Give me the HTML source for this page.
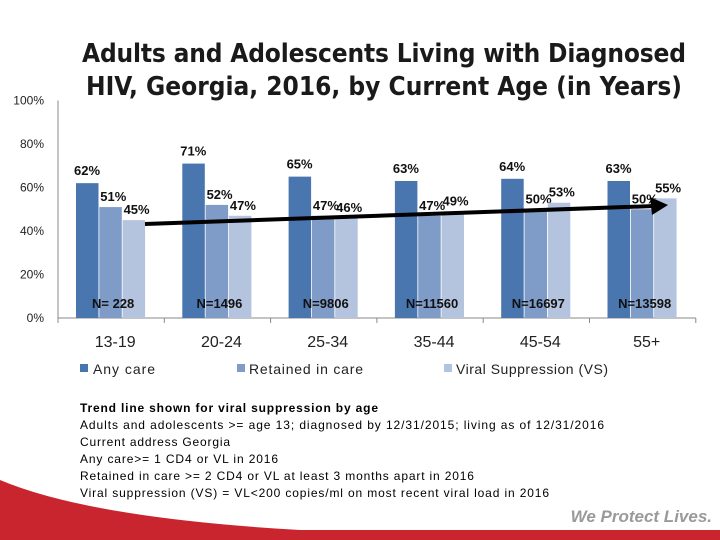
<!DOCTYPE html>
<html><head><meta charset="utf-8"><style>
body{margin:0;width:720px;height:540px;overflow:hidden;background:#fff;font-family:"Liberation Sans","DejaVu Sans",sans-serif}
svg{display:block}
</style></head><body>
<svg width="720" height="540">
<path d="M0,480 Q90,518 300,530 L720,530 L720,540 L0,540 Z" fill="#c9252f"/>
<text x="384" y="62" text-anchor="middle" font-size="26" font-weight="bold" fill="#1a1a1a" font-family="DejaVu Sans Condensed, DejaVu Sans, sans-serif" textLength="604">Adults and Adolescents Living with Diagnosed</text>
<text x="384" y="95" text-anchor="middle" font-size="26" font-weight="bold" fill="#1a1a1a" font-family="DejaVu Sans Condensed, DejaVu Sans, sans-serif" textLength="596">HIV, Georgia, 2016, by Current Age (in Years)</text>
<g id="axes"></g>
<g id="bars"></g>
<line x1="145" y1="224" x2="655" y2="206" stroke="#000" stroke-width="4"/>
<polygon points="668,205 650,197 652,215" fill="#000"/>
<g font-size="14" fill="#222">
<rect x="80" y="364" width="8" height="8" fill="#4a76b0"/>
<text x="93" y="374" textLength="62">Any care</text>
<rect x="237" y="364" width="8" height="8" fill="#7f9cc8"/>
<text x="249" y="374" textLength="114">Retained in care</text>
<rect x="444" y="364" width="8" height="8" fill="#b4c4de"/>
<text x="456" y="374" textLength="152">Viral Suppression (VS)</text>
</g>
<g font-size="12" fill="#000">
<text x="80" y="412" font-weight="bold" textLength="298">Trend line shown for viral suppression by age</text>
<text x="80" y="429" textLength="524">Adults and adolescents &gt;= age 13; diagnosed by 12/31/2015; living as of 12/31/2016</text>
<text x="80" y="446" textLength="150">Current address Georgia</text>
<text x="80" y="463" textLength="198">Any care&gt;= 1 CD4 or VL in 2016</text>
<text x="80" y="480" textLength="394">Retained in care &gt;= 2 CD4 or VL at least 3 months apart in 2016</text>
<text x="80" y="497" textLength="469">Viral suppression (VS) = VL&lt;200 copies/ml on most recent viral load in 2016</text>
</g>
<text x="712" y="522" text-anchor="end" font-size="17" font-weight="bold" font-style="italic" fill="#9a9a9a">We Protect Lives.</text>
</svg>
<script>
const categories=["13-19","20-24","25-34","35-44","45-54","55+"];
const anyCare=[62,71,65,63,64,63];
const retained=[51,52,47,47,50,50];
const viralSupp=[45,47,46,49,53,55];
const nLabels=["N= 228","N=1496","N=9806","N=11560","N=16697","N=13598"];
const yTicks=[0,20,40,60,80,100];
const NS="http://www.w3.org/2000/svg";
const x0=58,cw=106.3,y0=318,pp=2.175;
const y=v=>y0-v*pp;
const ax=document.getElementById('axes'),bg=document.getElementById('bars');
function mk(tag,at,parent,txt){const e=document.createElementNS(NS,tag);for(const k in at)e.setAttribute(k,at[k]);if(txt!==undefined)e.textContent=txt;parent.appendChild(e);return e;}
let e=mk('line',{x1:x0,y1:y(100),x2:x0,y2:y0,stroke:'#888','stroke-width':1},ax);


e=mk('line',{x1:x0,y1:y0,x2:x0+cw*6,y2:y0,stroke:'#888','stroke-width':1},ax);


yTicks.forEach(t=>{
 const l=mk('text',{x:44,y:y(t)+4,'text-anchor':'end','font-size':12,fill:'#222'},ax,t+'%');
 
 
});
for(let i=0;i<=6;i++){const tk=mk('line',{x1:x0+i*cw,y1:y0,x2:x0+i*cw,y2:y0+5,stroke:'#888'},ax);
 
 }
const series=[[anyCare,'#4a76b0'],[retained,'#7f9cc8'],[viralSupp,'#b4c4de']];
categories.forEach((c,i)=>{
 const cx=x0+i*cw;
 series.forEach(([arr,col],j)=>{
  const bx=cx+18+j*23.3;
  const r=mk('rect',{x:bx,y:y(arr[i]),width:22.5,height:arr[i]*pp,fill:col},bg);
  
  
  const off=j==0?-8:-6;
  const t=mk('text',{x:bx+11+(j==0?0:3),y:y(arr[i])+off,'text-anchor':'middle','font-size':13,'font-weight':'bold',fill:'#111'},bg,arr[i]+'%');
  
  
 });
 const n=mk('text',{x:cx+cw/2+2,y:y0-10,'text-anchor':'middle','font-size':13,'font-weight':'bold',fill:'#111'},bg,nLabels[i]);
 
 
 const cl=mk('text',{x:cx+cw/2+4,y:347,'text-anchor':'middle','font-size':16,fill:'#222'},bg,c);
 
 
});
</script>
</body></html>
